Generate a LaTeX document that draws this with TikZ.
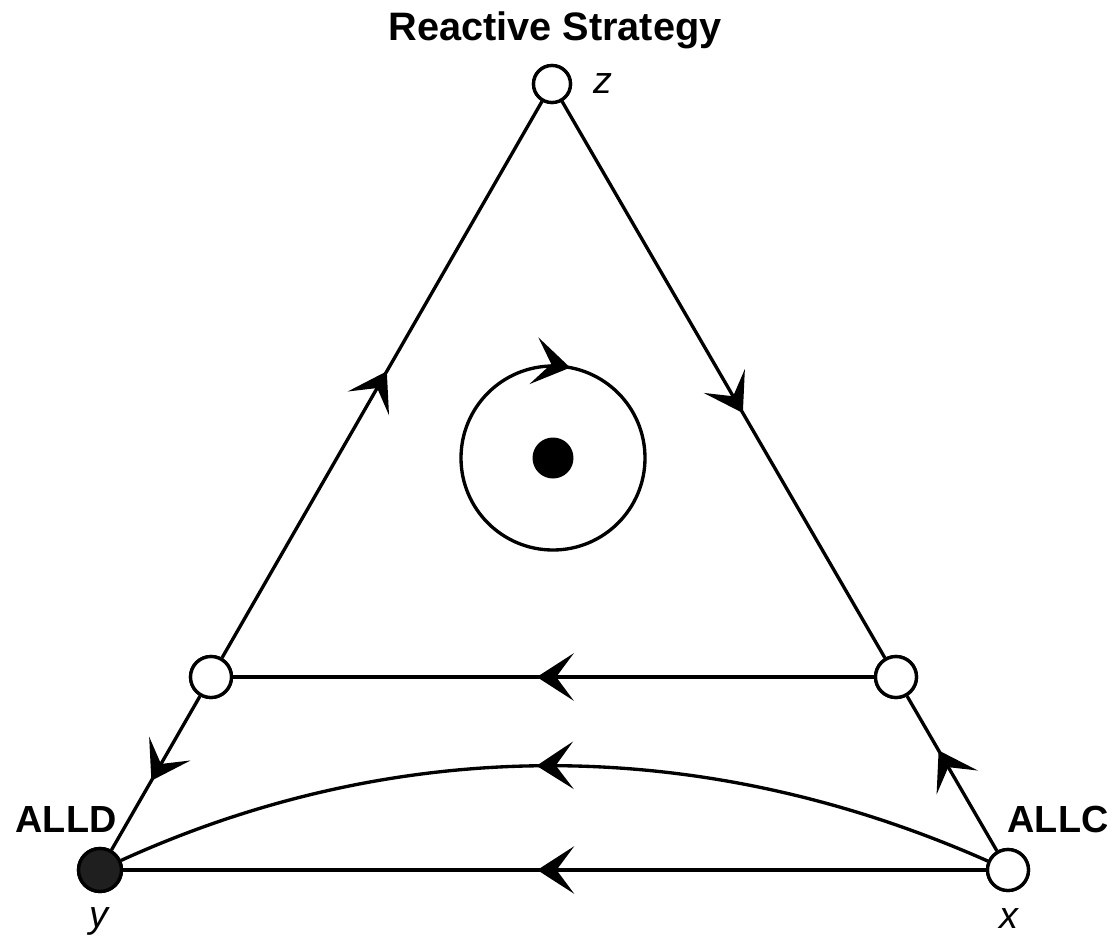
\documentclass[tikz,border=0pt]{standalone}
\usepackage{fontspec}
\setmainfont{Liberation Sans}
\usetikzlibrary{arrows.meta,decorations.markings}
\tikzset{
  >={Stealth[length=21pt,width=27pt,inset=10pt]},
  midarrow/.style={postaction={decorate},
    decoration={markings, mark=at position #1 with {\arrow{>}}}},
  opendot/.style={circle, draw, fill=white, inner sep=0pt, minimum size=#1},
  fulldot/.style={circle, draw, fill=black!88, inner sep=0pt, minimum size=#1},
  lbl/.style={inner sep=0pt, anchor=base, font=\fontsize{21.5}{24}\selectfont},
}
\begin{document}
\begin{tikzpicture}[x=0.02cm, y=-0.02cm, line width=1.9pt, line join=miter]
\useasboundingbox (0,0) rectangle (1110,937);
% nodes
\node[opendot=0.74cm] (z) at (552,84) {};
\node[fulldot=0.86cm] (y) at (100,870) {};
\node[opendot=0.82cm] (x) at (1008,870) {};
\node[opendot=0.82cm] (lm) at (211,677) {};
\node[opendot=0.82cm] (rm) at (896,677) {};
\node[circle, fill=black, inner sep=0pt, minimum size=0.82cm] (c) at (553,458) {};
% edges
\draw[midarrow=0.515] (lm) -- (z);
\draw[midarrow=0.56] (z) -- (rm);
\draw[midarrow=0.526] (rm) -- (lm);
\draw[midarrow=0.55] (lm) -- (y);
\draw[midarrow=0.65] (x) -- (rm);
\draw[midarrow=0.52] (x) -- (y);
\draw[midarrow=0.52] (x) .. controls (701,734) and (399,734) .. (y);
% orbit
\coordinate (o) at (461,458);
\draw[midarrow=0.28] (o) arc[start angle=180, end angle=540, radius=92];
% redraw nodes on top
\node[opendot=0.74cm] at (z) {};
\node[fulldot=0.86cm] at (y) {};
\node[opendot=0.82cm] at (x) {};
\node[opendot=0.82cm] at (lm) {};
\node[opendot=0.82cm] at (rm) {};
% labels
\node[lbl, font=\bfseries\fontsize{22.6}{25}\selectfont] (title) at (555,40) {Reactive Strategy};
\node[lbl, anchor=base west, font=\bfseries\fontsize{21.5}{24}\selectfont] (alld) at (14,832) {ALLD};
\node[lbl, anchor=base west, font=\bfseries\fontsize{21.5}{24}\selectfont] (allc) at (1006,832) {ALLC};
\node[lbl, font=\itshape\fontsize{21.5}{24}\selectfont] (zl) at (603,93) {z};
\node[lbl, font=\itshape\fontsize{21.5}{24}\selectfont] (yl) at (99,927) {y};
\node[lbl, font=\itshape\fontsize{21.5}{24}\selectfont] (xl) at (1009,928) {x};
\end{tikzpicture}
\end{document}
